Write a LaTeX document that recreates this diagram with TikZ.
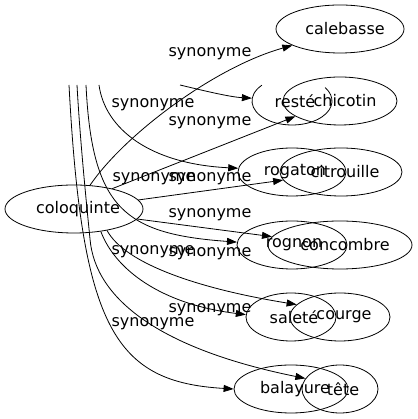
\documentclass[tikz,border=0pt]{standalone}
\usepackage{fontspec}
\setmainfont{DejaVu Sans}
\usetikzlibrary{shapes.geometric,arrows.meta}
\tikzset{
  ell/.style={draw, ellipse, inner sep=0pt, line width=0.8pt},
  txt/.style={inner sep=0pt, font=\fontsize{16pt}{19pt}\selectfont},
  lbl/.style={inner sep=0pt, anchor=base, font=\fontsize{16pt}{19pt}\selectfont},
  edge/.style={line width=0.8pt, -{Triangle[length=10pt,width=7pt]}}
}
\begin{document}
\begin{tikzpicture}[x=1pt,y=1pt]
\useasboundingbox (0,0) rectangle (417,419);
% nodes
\node[ell, minimum width=138pt, minimum height=48pt] (colo) at (74,210) {};
\node[txt] (coloT) at ([xshift=4pt]colo.center) {coloquinte};
\node[ell, minimum width=128pt, minimum height=48pt] (cal) at (340,390) {};
\node[txt] (calT) at ([xshift=5pt]cal.center) {calebasse};
\node[ell, draw=none, minimum width=80pt, minimum height=48pt] (reste) at (292,318) {};
\draw[line width=0.8pt] ([shift={(139:40pt and 24pt)}]reste.center) arc[start angle=139, end angle=394, x radius=40pt, y radius=24pt];
\node[txt] (resteT) at ([xshift=3pt]reste.center) {resté};
\node[ell, minimum width=114pt, minimum height=48pt] (chic) at (340,318) {};
\node[txt] (chicT) at ([xshift=5pt]chic.center) {chicotin};
\node[ell, minimum width=108pt, minimum height=48pt] (rog) at (292,247) {};
\node[txt] (rogT) at ([xshift=3pt]rog.center) {rogaton};
\node[ell, minimum width=122pt, minimum height=48pt] (cit) at (341,247) {};
\node[txt] (citT) at ([xshift=4pt]cit.center) {citrouille};
\node[ell, minimum width=110pt, minimum height=48pt] (rogn) at (292,174) {};
\node[txt] (rognT) at ([xshift=2pt]rogn.center) {rognon};
\node[ell, minimum width=144pt, minimum height=48pt] (conc) at (340,174) {};
\node[txt] (concT) at ([xshift=5pt]conc.center) {concombre};
\node[ell, minimum width=90pt, minimum height=48pt] (sal) at (291,102) {};
\node[txt] (salT) at ([xshift=3pt]sal.center) {saleté};
\node[ell, minimum width=100pt, minimum height=48pt] (cou) at (340,102) {};
\node[txt] (couT) at ([xshift=4pt]cou.center) {courge};
\node[ell, minimum width=114pt, minimum height=48pt] (bal) at (291,30) {};
\node[txt] (balT) at ([xshift=4pt]bal.center) {balayure};
\node[ell, minimum width=76pt, minimum height=48pt] (tete) at (340,30) {};
\node[txt] (teteT) at ([xshift=3pt]tete.center) {tête};
% free starts
\coordinate (s1) at (180,334);
\coordinate (s2) at (99,334);
\coordinate (s3) at (86,334);
\coordinate (s4) at (77,334);
\coordinate (s5) at (69,334);
% edges
\draw[edge] (colo.56) .. controls (125,285) and (215,352) .. (cal.199);
\draw[edge] (s1) .. controls (205,328) and (230,322) .. (reste.176);
\draw[edge] (colo.28) -- (chic.199);
\draw[edge] (s2) .. controls (105,290) and (150,255) .. (rog.176);
\draw[edge] (colo.8) -- (cit.188);
\draw[edge] (s3) .. controls (92,210) and (125,185) .. (rogn.177);
\draw[edge] (colo.351) -- (conc.173);
\draw[edge] (colo.320) .. controls (115,150) and (160,115) .. (sal.177);
\draw[edge] (colo.327) .. controls (125,155) and (200,130) .. (cou.164);
\draw[edge] (s5) .. controls (82,90) and (115,37) .. (bal.180);
\draw[edge] (s4) .. controls (80,280) and (86,220) .. (90,180) .. controls (95,120) and (160,70) .. (tete.163);
% labels
\node[lbl] (l1) at (210,362.5) {synonyme};
\node[lbl] (l2) at (153,311.5) {synonyme};
\node[lbl] (l3) at (210,293.5) {synonyme};
\node[lbl] (l4) at (154,237.5) {synonyme};
\node[lbl] (l5) at (210,237.5) {synonyme};
\node[lbl] (l6) at (210,201.5) {synonyme};
\node[lbl] (l7) at (153,164.5) {synonyme};
\node[lbl] (l8) at (210,162.5) {synonyme};
\node[lbl] (l9) at (210,106.5) {synonyme};
\node[lbl] (l10) at (153,92.5) {synonyme};
\end{tikzpicture}
\end{document}
